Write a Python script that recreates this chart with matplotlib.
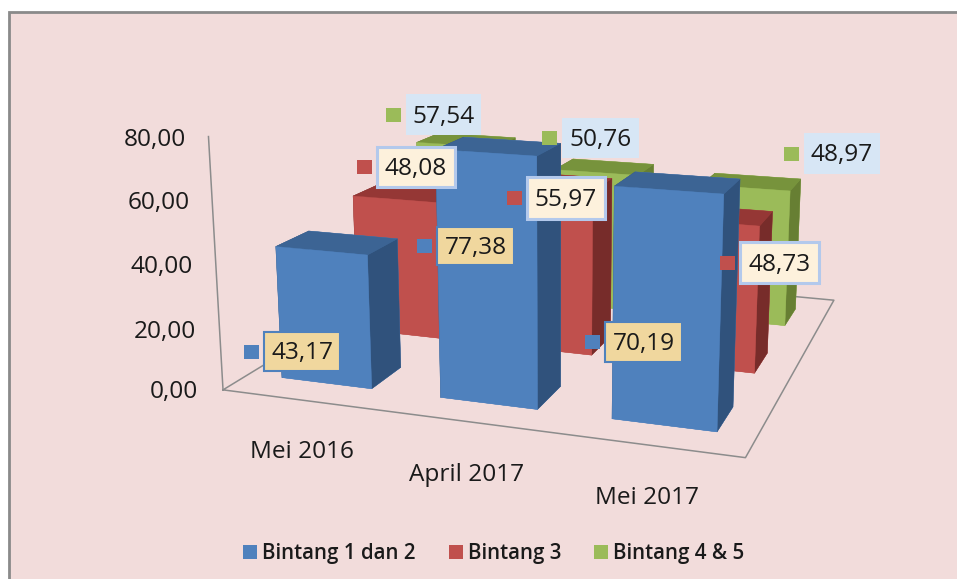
"""Excel-style 3D column chart: Bintang hotel occupancy, Mei 2016 - Mei 2017."""
import matplotlib

matplotlib.use("Agg")
import matplotlib.pyplot as plt
from matplotlib.patches import Rectangle

W, H = 957, 579
plt.rcParams["font.family"] = ["Open Sans", "DejaVu Sans"]

categories = ["Mei 2016", "April 2017", "Mei 2017"]
series_names = ["Bintang 1 dan 2", "Bintang 3", "Bintang 4 & 5"]
bintang_12 = [43.17, 77.38, 70.19]
bintang_3 = [48.08, 55.97, 48.73]
bintang_45 = [57.54, 50.76, 48.97]
z_ticks = [0, 20, 40, 60, 80]

# (front, top, side) shades per series
blue = ("#4f81bd", "#3c6494", "#30527c")
red = ("#c0504d", "#953735", "#772c2a")
green = ("#9bbb59", "#77933c", "#677f33")
label_fill = ["#f0d79e", "#fdf1dc", "#d7e6f5"]
label_edge = ["#4f81bd", "#b3c9ec", "none"]
label_lw = [1.5, 2.2, 0]

# label boxes in reference pixels (left, top, right, bottom), same order as the series
boxes = [
    [(264, 332, 340, 371), (437, 227, 514, 265), (605, 322, 682, 362)],
    [(377, 147, 455, 187), (527, 177, 605, 219), (740, 242, 819, 283)],
    [(406, 94, 481, 135), (562, 118, 639, 158), (804, 133, 880, 174)],
]
tick_y = [390, 330, 265, 201, 138]
tick_right = [198, 196, 193, 190, 186]
cat_xy = [(302, 449), (467, 472), (647, 495)]
legend_keys = [243, 449, 594]
legend_text = [262, 468, 613]


def fx(x):
    return x / W


def fy(y):
    return 1 - y / H


def pixel_rect(left, top, right, bottom, **kw):
    r = Rectangle((fx(left), fy(bottom)), (right - left) / W, (bottom - top) / H,
                  transform=fig.transFigure, **kw)
    fig.add_artist(r)
    return r


fig = plt.figure(figsize=(W / 100, H / 100), dpi=100, facecolor="white")
pixel_rect(9, 12, W + 10, H + 10, facecolor="#f2dcdb", edgecolor="#8a8a8a", linewidth=2, zorder=-1)

# camera and axes box fitted against the reference bar corners
ax = fig.add_axes([197.57 / W, 1 - 587.65 / H, 700.67 / W, 700.67 / H], projection="3d")
ax.patch.set_alpha(0)
ax.set_xlim(0, 3)
ax.set_ylim(0, 3)
ax.set_zlim(0, 80)
ax.view_init(elev=13.796, azim=-70.976, roll=-0.023)
ax.set_proj_type("persp", focal_length=0.3854)
ax.set_box_aspect((2.0623, 2.0032, 1))
ax.set_axis_off()
ax.computed_zorder = False

hx, hy = 0.2875, 0.1996
line = dict(color="#8c8c8c", linewidth=1.1, zorder=1)
ax.plot([0, 3, 3, 0, 0], [0, 0, 3, 3, 0], [0, 0, 0, 0, 0], **line)
ax.plot([0, 0], [0, 0], [0, z_ticks[-1]], **line)

all_values = [bintang_12, bintang_3, bintang_45]
shades = [blue, red, green]
order = 2
for s in (2, 1, 0):
    front, top, side = shades[s]
    faces = [front, top, front, front, side, side]
    for i in range(3):
        ax.bar3d(i + 0.5 - hx, s + 0.5 - hy, 0, 2 * hx, 2 * hy, all_values[s][i],
                 color=faces, edgecolor=faces, linewidth=0.3, shade=False, zorder=order)
        order += 1

for tick, x, y in zip(z_ticks, tick_right, tick_y):
    fig.text(fx(x), fy(y + 2), f"{tick:.2f}".replace(".", ","), fontsize=17.6, ha="right", va="center", color="#1a1a1a")

for name, (x, y) in zip(categories, cat_xy):
    fig.text(fx(x), fy(y + 3), name, fontsize=17.6, ha="center", va="center", color="#1a1a1a")

for s in range(3):
    front = shades[s][0]
    for i in range(3):
        left, top, right, bottom = boxes[s][i]
        mid = (top + bottom) / 2
        pixel_rect(left - 20, mid - 7, left - 5.5, mid + 7, facecolor=front, edgecolor="none", zorder=5)
        pixel_rect(left, top, right, bottom, facecolor=label_fill[s], edgecolor=label_edge[s],
                   linewidth=label_lw[s], zorder=5)
        fig.text(fx((left + right) / 2), fy(mid + 2), f"{all_values[s][i]:.2f}".replace(".", ","),
                 fontsize=17.6, ha="center", va="center", color="#1a1a1a", zorder=6)

for s in range(3):
    pixel_rect(legend_keys[s], 545, legend_keys[s] + 14, 559, facecolor=shades[s][0], edgecolor="none", zorder=5)
    fig.text(fx(legend_text[s]), fy(554), series_names[s], fontsize=14.8, weight="semibold",
             ha="left", va="center", color="#1a1a1a", zorder=6)

fig.savefig("out.png", dpi=100)
